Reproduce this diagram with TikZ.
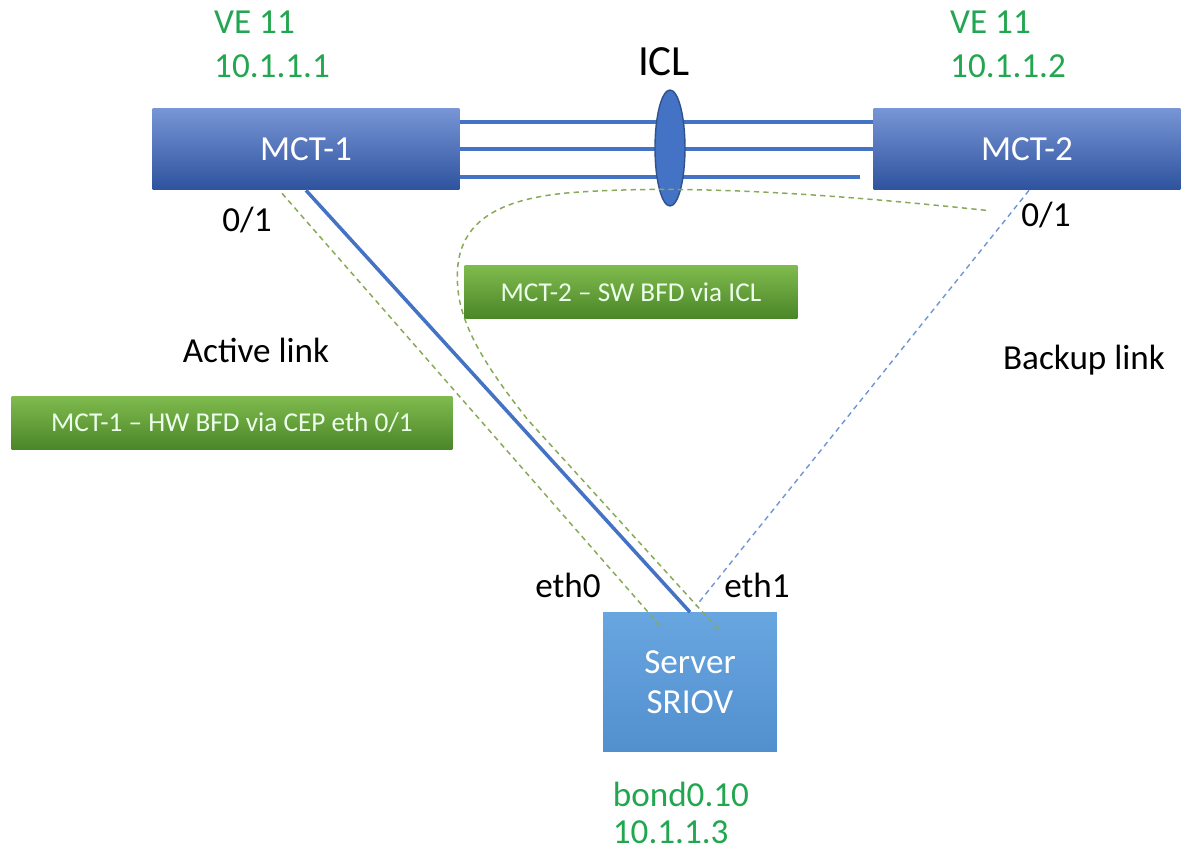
\documentclass[tikz,border=0pt]{standalone}
\usepackage{fontspec}
\setmainfont{Carlito}
\usetikzlibrary{positioning,calc,shapes.geometric}

\definecolor{mcttop}{RGB}{120,150,214}
\definecolor{mctbot}{RGB}{46,82,158}
\definecolor{srvtop}{RGB}{104,166,224}
\definecolor{srvbot}{RGB}{82,143,206}
\definecolor{bfdtop}{RGB}{128,186,78}
\definecolor{bfdbot}{RGB}{74,134,40}
\definecolor{iptext}{RGB}{34,166,80}
\definecolor{linkblue}{RGB}{68,114,196}
\definecolor{iclrim}{RGB}{47,82,143}
\definecolor{bfdgreen}{RGB}{136,170,88}
\definecolor{backupblue}{RGB}{110,150,214}

\begin{document}
\begin{tikzpicture}[x=0.02cm, y=-0.02cm,
switchnode/.style={rectangle, top color=mcttop, bottom color=mctbot, minimum width=6.14cm, minimum height=1.64cm, text=white, font=\fontsize{20}{24}\selectfont},
servernode/.style={rectangle, top color=srvtop, bottom color=srvbot, minimum width=3.48cm, minimum height=2.78cm, text=white, align=center, font=\fontsize{20}{23}\selectfont},
bfdnode/.style={rectangle, top color=bfdtop, bottom color=bfdbot, minimum height=1.06cm, text=white!92!green, font=\fontsize{15.5}{18}\selectfont},
plainlabel/.style={font=\fontsize{20}{25}\selectfont},
iplabel/.style={text=iptext, align=left, anchor=west, font=\fontsize{20}{25}\selectfont},
icllink/.style={draw=linkblue, line width=2.3pt},
activelink/.style={draw=linkblue, line width=2pt},
bfdpath/.style={draw=bfdgreen, line width=0.85pt, dash pattern=on 3pt off 2.4pt},
backuppath/.style={draw=backupblue, line width=0.8pt, dash pattern=on 3pt off 2.4pt},
]
\useasboundingbox (0,0) rectangle (1188,851);

%Nodes
\node[switchnode]      (mct1)      at (306,149)       {MCT-1};
\node[switchnode]      (mct2)      at (1027,149)      {MCT-2};
\node[servernode]      (server)    at (690,682)       {Server\\SRIOV};
\node[bfdnode, minimum width=8.82cm]   (bfd1)   at (232,423)   {MCT-1 -- HW BFD via CEP eth 0/1};
\node[bfdnode, minimum width=6.66cm]   (bfd2)   at (631,292)   {MCT-2 -- SW BFD via ICL};

\node[iplabel]         (ve1)       at (208,44)        {VE 11\\10.1.1.1};
\node[iplabel]         (ve2)       at (944,44)        {VE 11\\10.1.1.2};
\node[iplabel, font=\fontsize{20}{21}\selectfont] (bond) [below=0.48cm of server.south west, xshift=0.08cm, anchor=north west] {bond0.10\\10.1.1.3};
\node[font=\fontsize{24.5}{28}\selectfont] (icltext) at (664,62) {ICL};
\node[plainlabel]      (port1)     at (247,220)       {0/1};
\node[plainlabel]      (port2)     at (1046,215)      {0/1};
\node[plainlabel]      (active)    at (256,350)       {Active link};
\node[plainlabel]      (backup)    at (1084,360)      {Backup link};
\node[plainlabel]      (eth0)      at (568,585)       {eth0};
\node[plainlabel]      (eth1)      at (757,585)       {eth1};

%Lines
\draw[icllink] ($(mct1.east)+(0,-27)$) -- ($(mct2.west)+(0,-27)$);
\draw[icllink] (mct1.east) -- (mct2.west);
\draw[icllink] ($(mct1.east)+(0,28)$) -- ($(mct2.west)+(-13,28)$);
\node[ellipse, draw=iclrim, fill=linkblue, thick, minimum width=0.6cm, minimum height=2.32cm, inner sep=0pt] (icl) at (670,148) {};

\draw[activelink] (mct1.south) -- (server.north);
\draw[backuppath] ($(mct2.south)+(2,0)$) -- ($(server.north)+(6,-6)$);

\coordinate (hwstart) at ($(mct1.south)+(-24,3)$);
\coordinate (hwend)   at ($(server.north)+(-27,17)$);
\draw[bfdpath] (hwstart) -- (hwend);

\coordinate (swstart) at ($(mct2.south)+(-41,20)$);
\coordinate (swend)   at ($(server.north)+(30,19)$);
\draw[bfdpath] (swstart) .. controls (850,196) and (700,184) .. (580,192)
   .. controls (482,198) and (452,232) .. (458,290)
   .. controls (462,330) and (490,372) .. (528,420) -- (swend);
\end{tikzpicture}
\end{document}
